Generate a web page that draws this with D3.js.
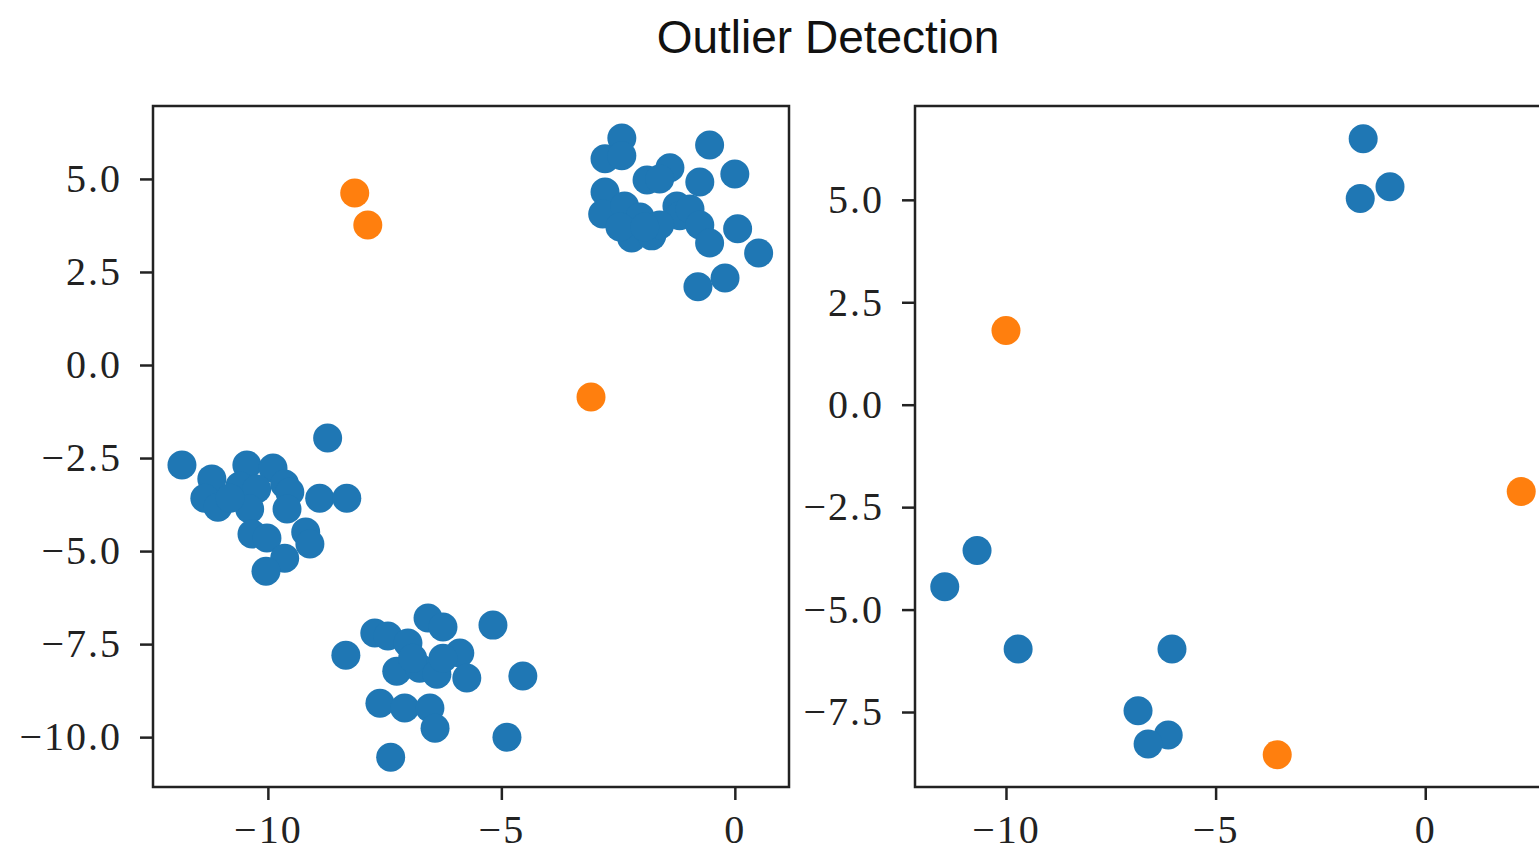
<!DOCTYPE html>
<html>
<head>
<meta charset="utf-8">
<script src="https://cdn.jsdelivr.net/npm/d3@7"></script>
<style>
  body { margin: 0; background: #fff; overflow: hidden; }
  svg { display: block; }
</style>
</head>
<body>
<svg></svg>
<script>
// left panel: inliers (x, y) and outliers
var leftInliersX = [
  -2.42, -2.78, -2.42, -0.54, 0.00, -1.39, -1.88, -1.61, -0.75, -2.78, -2.83, -2.36, -2.03, -2.21,
  -1.78, -1.24, -1.18, -0.96, -0.75, -0.54, 0.06, 0.51, -0.21, -0.79, -2.46, -1.61, -1.93,
  -11.84, -11.20, -10.45, -9.89, -11.35, -11.07, -10.60, -10.24, -9.64, -9.53, -10.39, -9.59,
  -8.72, -8.89, -8.31, -10.34, -10.02, -9.19, -9.10, -9.64, -10.04, -10.81,
  -8.33, -7.71, -7.43, -6.57, -6.25, -7.00, -5.18, -5.89, -7.24, -6.75, -6.38, -5.74, -4.54,
  -6.25, -7.60, -7.07, -6.53, -6.42, -4.88, -7.37, -6.90
];
var leftInliersY = [
  6.10, 5.54, 5.62, 5.91, 5.13, 5.30, 4.97, 5.00, 4.92, 4.65, 4.06, 4.27, 3.98, 3.41,
  3.47, 4.27, 4.01, 4.19, 3.76, 3.28, 3.66, 3.01, 2.34, 2.10, 3.71, 3.76, 3.71,
  -2.69, -3.06, -2.69, -2.77, -3.58, -3.82, -3.25, -3.33, -3.20, -3.41, -3.87, -3.87,
  -1.96, -3.58, -3.58, -4.54, -4.65, -4.49, -4.81, -5.19, -5.54, -3.58,
  -7.80, -7.20, -7.28, -6.80, -7.04, -7.47, -6.99, -7.74, -8.23, -8.15, -8.31, -8.41, -8.36,
  -7.88, -9.09, -9.22, -9.22, -9.76, -10.00, -10.54, -7.88
];
var leftOutliersX = [-8.14, -7.86, -3.08];
var leftOutliersY = [4.62, 3.76, -0.86];

// right panel
var rightInliersX = [-1.48, -0.84, -1.55, -10.69, -11.46, -9.71, -6.04, -6.85, -6.13, -6.61];
var rightInliersY = [6.49, 5.32, 5.03, -3.56, -4.44, -5.96, -5.96, -7.47, -8.06, -8.28];
var rightOutliersX = [-10.00, 2.29, -3.53];
var rightOutliersY = [1.81, -2.12, -8.54];

var xTicks = [-10, -5, 0];
var yTicksLeft = [5, 2.5, 0, -2.5, -5, -7.5, -10];
var yTicksRight = [5, 2.5, 0, -2.5, -5, -7.5];

var titleText = "Outlier Detection";

var width = 1539, height = 852;
var svg = d3.select("svg").attr("width", width).attr("height", height);

svg.append("text")
  .attr("x", 828)
  .attr("y", 53)
  .attr("text-anchor", "middle")
  .style("font-family", "'Liberation Sans', Arial, sans-serif")
  .style("font-size", "46px")
  .attr("fill", "#111")
  .text(titleText);

function zip(xs, ys) {
  return xs.map(function(d, i) { return [d, ys[i]]; });
}

function panel(opts) {
  var g = svg.append("g").attr("transform", "translate(" + opts.left + "," + opts.top + ")");
  var x = d3.scaleLinear().domain(opts.xDomain).range([0, opts.w]);
  var y = d3.scaleLinear().domain(opts.yDomain).range([opts.h, 0]);

  g.append("g")
    .selectAll("circle.in")
    .data(zip(opts.inX, opts.inY))
    .enter().append("circle")
    .attr("cx", function(d) { return x(d[0]); })
    .attr("cy", function(d) { return y(d[1]); })
    .attr("r", 14.5)
    .attr("fill", "#1f77b4");

  g.append("g")
    .selectAll("circle.out")
    .data(zip(opts.outX, opts.outY))
    .enter().append("circle")
    .attr("cx", function(d) { return x(d[0]); })
    .attr("cy", function(d) { return y(d[1]); })
    .attr("r", 14.5)
    .attr("fill", "#ff7f0e");

  var xAxis = g.append("g")
    .attr("transform", "translate(0," + opts.h + ")")
    .call(d3.axisBottom(x).tickValues(xTicks).tickFormat(d3.format("d")).tickSize(13).tickPadding(15));
  var yAxis = g.append("g")
    .call(d3.axisLeft(y).tickValues(opts.yTicks).tickFormat(d3.format(".1f")).tickSize(13).tickPadding(18));

  [xAxis, yAxis].forEach(function(a) {
    a.select(".domain").remove();
    a.selectAll(".tick line").attr("stroke", "#222").attr("stroke-width", 2.5);
    a.selectAll(".tick text")
      .style("font-family", "'Liberation Serif', 'DejaVu Serif', serif")
      .style("font-size", "40px")
      .style("letter-spacing", "2px")
      .attr("fill", "#222");
  });

  g.append("rect")
    .attr("width", opts.w)
    .attr("height", opts.h)
    .attr("fill", "none")
    .attr("stroke", "#222")
    .attr("stroke-width", 2.5);
}

panel({
  left: 153, top: 106, w: 636, h: 681,
  xDomain: [-12.46, 1.16], yDomain: [-11.34, 6.96],
  inX: leftInliersX, inY: leftInliersY, outX: leftOutliersX, outY: leftOutliersY,
  yTicks: yTicksLeft
});

panel({
  left: 915, top: 106, w: 636, h: 681,
  xDomain: [-12.17, 3.0], yDomain: [-9.33, 7.29],
  inX: rightInliersX, inY: rightInliersY, outX: rightOutliersX, outY: rightOutliersY,
  yTicks: yTicksRight
});
</script>
</body>
</html>
